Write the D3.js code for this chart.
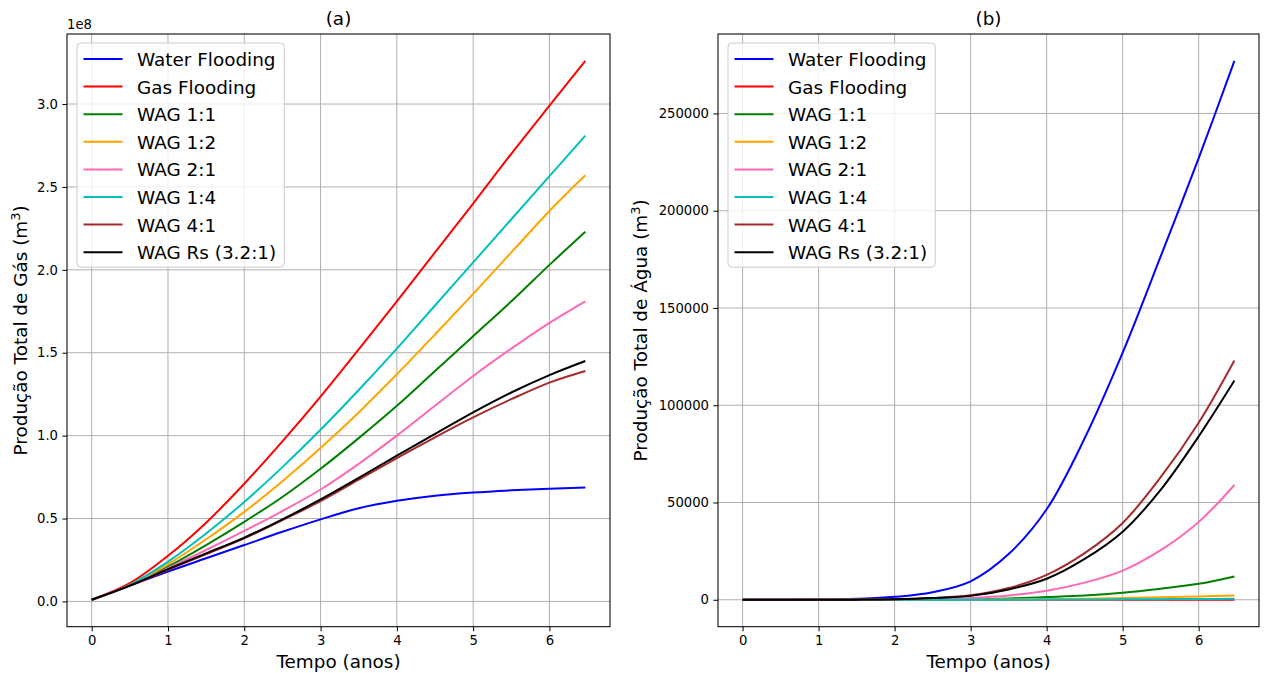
<!DOCTYPE html>
<html lang="pt">
<head>
  <meta charset="UTF-8">
  <title>Produção Total de Gás e Água</title>
  <script src="https://d3js.org/d3.v7.min.js"></script>
  <style>
    body { margin: 0; background: #fff; }
    svg { font-family: "DejaVu Sans", sans-serif; }
    .grid line { stroke: #b0b0b0; stroke-width: 1px; }
    .tick text { font-size: 13.2px; fill: #000; }
    .label { font-size: 18.4px; fill: #000; }
  </style>
</head>
<body>
  <svg id="chart" width="1265" height="673"></svg>

  <script>
    // tempo em anos
    const years = [0, 0.5, 1, 1.5, 2, 2.5, 3, 3.5, 4, 4.5, 5, 5.5, 6, 6.47];

    const seriesNames = ["Water Flooding", "Gas Flooding", "WAG 1:1", "WAG 1:2",
                         "WAG 2:1", "WAG 1:4", "WAG 4:1", "WAG Rs (3.2:1)"];
    const seriesColors = ["#0000ff", "#ff0000", "#008000", "#ffa500",
                          "#ff69b4", "#00bfbf", "#a52a2a", "#000000"];

    // (a) produção total de gás, em 1e8 m3
    const gasWaterFlooding = [0.01, 0.095, 0.18, 0.26, 0.34, 0.42, 0.495, 0.562, 0.607, 0.638, 0.657, 0.670, 0.680, 0.687];
    const gasGasFlooding   = [0.01, 0.11, 0.275, 0.475, 0.71, 0.965, 1.235, 1.52, 1.81, 2.105, 2.40, 2.70, 2.99, 3.26];
    const gasWag11         = [0.01, 0.095, 0.21, 0.34, 0.48, 0.63, 0.80, 0.985, 1.18, 1.39, 1.60, 1.81, 2.03, 2.23];
    const gasWag12         = [0.01, 0.10, 0.225, 0.375, 0.54, 0.725, 0.925, 1.14, 1.37, 1.61, 1.855, 2.105, 2.355, 2.57];
    const gasWag21         = [0.01, 0.095, 0.20, 0.31, 0.425, 0.545, 0.675, 0.83, 1.00, 1.18, 1.36, 1.525, 1.68, 1.81];
    const gasWag14         = [0.01, 0.10, 0.24, 0.41, 0.60, 0.81, 1.035, 1.275, 1.525, 1.785, 2.045, 2.305, 2.565, 2.81];
    const gasWag41         = [0.01, 0.095, 0.19, 0.285, 0.38, 0.49, 0.605, 0.735, 0.865, 0.99, 1.11, 1.22, 1.32, 1.39];
    const gasWagRs         = [0.01, 0.095, 0.195, 0.29, 0.385, 0.495, 0.615, 0.745, 0.88, 1.01, 1.14, 1.26, 1.365, 1.45];

    // (b) produção total de água, em m3
    const watWaterFlooding = [0, 20, 100, 500, 1500, 3900, 9500, 23500, 46500, 83000, 127000, 176500, 227000, 277000];
    const watGasFlooding   = [0, 0, 0, 0, 0, 0, 0, 0, 0, 0, 0, 0, 0, 0];
    const watWag11         = [0, 0, 0, 20, 60, 150, 300, 700, 1400, 2200, 3600, 5700, 8200, 12000];
    const watWag12         = [0, 0, 0, 0, 10, 40, 100, 200, 300, 550, 900, 1300, 1700, 2200];
    const watWag21         = [0, 0, 0, 20, 100, 350, 900, 2200, 4600, 8800, 15000, 25500, 40000, 59000];
    const watWag14         = [0, 0, 0, 0, 0, 10, 30, 60, 100, 150, 200, 300, 400, 500];
    const watWag41         = [0, 0, 10, 60, 250, 900, 2300, 6000, 12800, 24000, 39500, 63000, 91000, 123000];
    const watWagRs         = [0, 0, 10, 60, 250, 850, 2000, 5300, 10800, 21000, 35000, 56500, 84000, 112700];

    const xTicks = [0, 1, 2, 3, 4, 5, 6];
    const yTicksGas = [0, 0.5, 1.0, 1.5, 2.0, 2.5, 3.0];
    const yTicksWater = [0, 50000, 100000, 150000, 200000, 250000];

    const svg = d3.select("#chart");

    // margem de 5% como no matplotlib
    function padded(lo, hi) {
      const m = (hi - lo) * 0.05;
      return [lo - m, hi + m];
    }

    function drawPanel(p) {
      const g = svg.append("g");
      const x = d3.scaleLinear().domain(padded(d3.min(years), d3.max(years))).range([p.left, p.right]);
      const all = p.series.flat();
      const y = d3.scaleLinear().domain(padded(d3.min(all), d3.max(all))).range([p.bottom, p.top]);

      // grade
      g.append("g").attr("class", "grid")
        .selectAll("line.v").data(xTicks).enter().append("line")
        .attr("x1", d => x(d)).attr("x2", d => x(d))
        .attr("y1", p.top).attr("y2", p.bottom);
      g.append("g").attr("class", "grid")
        .selectAll("line.h").data(p.yTicks).enter().append("line")
        .attr("x1", p.left).attr("x2", p.right)
        .attr("y1", d => y(d)).attr("y2", d => y(d));

      // linhas
      const line = d3.line().x((d, i) => x(years[i])).y(d => y(d)).curve(d3.curveCatmullRom.alpha(0.5));
      p.series.forEach((s, k) => {
        g.append("path").datum(s)
          .attr("d", line)
          .attr("fill", "none")
          .attr("stroke", seriesColors[k])
          .attr("stroke-width", 2);
      });

      // eixos
      const xAxis = d3.axisBottom(x).tickValues(xTicks).tickSize(4.6).tickPadding(4.4).tickFormat(d3.format("d"));
      const yAxis = d3.axisLeft(y).tickValues(p.yTicks).tickSize(4.6).tickPadding(4.4).tickFormat(p.fmt);
      const gx = g.append("g").attr("transform", `translate(0,${p.bottom})`).call(xAxis);
      const gy = g.append("g").attr("transform", `translate(${p.left},0)`).call(yAxis);
      [gx, gy].forEach(a => {
        a.select(".domain").remove();
        a.selectAll(".tick line").attr("stroke", "#000").attr("stroke-width", 1);
        a.selectAll(".tick text").style("font-family", "DejaVu Sans");
      });

      // moldura
      g.append("rect")
        .attr("x", p.left).attr("y", p.top)
        .attr("width", p.right - p.left).attr("height", p.bottom - p.top)
        .attr("fill", "none").attr("stroke", "#000").attr("stroke-width", 1.05);

      if (p.offset) {
        g.append("text").attr("x", p.left).attr("y", p.top - 5)
          .style("font-size", "13.2px").text(p.offset);
      }

      // título
      g.append("text").attr("class", "label")
        .attr("x", (p.left + p.right) / 2).attr("y", 25)
        .attr("text-anchor", "middle").text(p.title);

      // eixo x
      g.append("text").attr("class", "label")
        .attr("x", (p.left + p.right) / 2).attr("y", 668)
        .attr("text-anchor", "middle").text("Tempo (anos)");

      // eixo y
      const yl = g.append("text").attr("class", "label")
        .attr("transform", `translate(${p.ylabelX},${(p.top + p.bottom) / 2}) rotate(-90)`)
        .attr("text-anchor", "middle");
      yl.append("tspan").text(p.ylabel + " (m");
      yl.append("tspan").attr("dy", -7).style("font-size", "13px").text("3");
      yl.append("tspan").attr("dy", 7).text(")");

      // legenda
      const lx = p.left + 10, ly = p.top + 9, step = 27.6;
      const leg = g.append("g");
      const box = leg.append("rect")
        .attr("x", lx).attr("y", ly).attr("rx", 4).attr("ry", 4)
        .attr("fill", "#fff").attr("fill-opacity", 0.8)
        .attr("stroke", "#cccccc").attr("stroke-width", 1);
      let maxW = 0;
      seriesNames.forEach((name, k) => {
        const cy = ly + 16 + k * step;
        leg.append("line")
          .attr("x1", lx + 6.5).attr("x2", lx + 45.5)
          .attr("y1", cy).attr("y2", cy)
          .attr("stroke", seriesColors[k]).attr("stroke-width", 2);
        const t = leg.append("text").attr("class", "label")
          .attr("x", lx + 60).attr("y", cy + 7).text(name);
        maxW = Math.max(maxW, t.node().getComputedTextLength());
      });
      box.attr("width", 60 + maxW + 8).attr("height", 16 + 7 * step + 15);
    }

    drawPanel({
      left: 67, right: 610, top: 34, bottom: 626.7,
      series: [gasWaterFlooding, gasGasFlooding, gasWag11, gasWag12, gasWag21, gasWag14, gasWag41, gasWagRs],
      yTicks: yTicksGas, fmt: d3.format(".1f"), offset: "1e8",
      title: "(a)", ylabel: "Produção Total de Gás", ylabelX: 27
    });

    drawPanel({
      left: 718, right: 1259, top: 34, bottom: 626.7,
      series: [watWaterFlooding, watGasFlooding, watWag11, watWag12, watWag21, watWag14, watWag41, watWagRs],
      yTicks: yTicksWater, fmt: d3.format("d"), offset: null,
      title: "(b)", ylabel: "Produção Total de Água", ylabelX: 647
    });
  </script>
</body>
</html>
